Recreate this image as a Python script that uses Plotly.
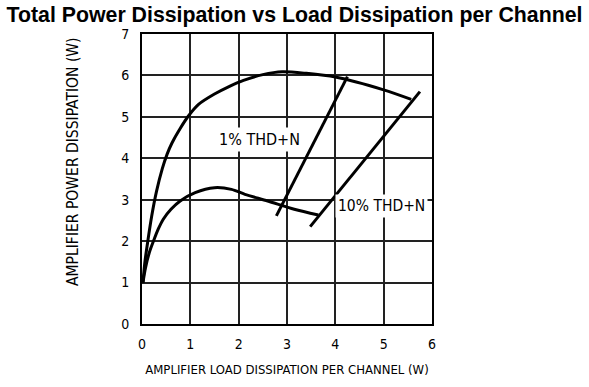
import plotly.graph_objects as go

# Dissipation curves (W): total amplifier dissipation vs load dissipation per channel
upper_x = [0.02, 0.06, 0.12, 0.20, 0.30, 0.42, 0.52, 0.62, 0.79, 0.96, 1.17, 1.50, 1.80, 2.10, 2.50, 2.90, 3.40, 4.00, 5.00, 5.57]
upper_y = [1.00, 1.50, 2.00, 2.60, 3.20, 3.75, 4.10, 4.37, 4.72, 5.02, 5.30, 5.55, 5.73, 5.88, 6.02, 6.09, 6.05, 5.96, 5.65, 5.42]

lower_x = [0.02, 0.07, 0.15, 0.24, 0.34, 0.44, 0.60, 0.79, 1.10, 1.50, 1.85, 2.13, 2.60, 3.15, 3.65]
lower_y = [1.00, 1.34, 1.72, 2.01, 2.30, 2.53, 2.77, 2.97, 3.17, 3.29, 3.25, 3.13, 2.97, 2.77, 2.63]

# Constant-distortion lines
thd1_x = [2.78, 4.25]
thd1_y = [2.61, 5.97]
thd10_x = [3.48, 5.75]
thd10_y = [2.35, 5.61]

x_ticks = [0, 1, 2, 3, 4, 5, 6]
y_ticks = [0, 1, 2, 3, 4, 5, 6, 7]

LABEL_FONT = "Liberation Sans Narrow, DejaVu Sans Condensed, sans-serif"
line_style = dict(color="black", width=3)

fig = go.Figure()
fig.add_trace(go.Scatter(x=upper_x, y=upper_y, mode="lines",
                         line=dict(shape="spline", smoothing=0.8, **line_style)))
fig.add_trace(go.Scatter(x=lower_x, y=lower_y, mode="lines",
                         line=dict(shape="spline", smoothing=0.8, **line_style)))
fig.add_trace(go.Scatter(x=thd1_x, y=thd1_y, mode="lines", line=line_style))
fig.add_trace(go.Scatter(x=thd10_x, y=thd10_y, mode="lines", line=line_style))

fig.add_annotation(x=2.43, y=4.45, text="1% THD+N", showarrow=False,
                   bgcolor="white", borderpad=2,
                   font=dict(family=LABEL_FONT, size=16, color="black"))
fig.add_annotation(x=4.95, y=2.85, text="10% THD+N", showarrow=False,
                   bgcolor="white", borderpad=2,
                   font=dict(family=LABEL_FONT, size=15.5, color="black"))

# Vertical axis title, placed as a rotated annotation
fig.add_annotation(xref="paper", yref="paper", x=-0.24, y=0.56,
                   text="AMPLIFIER POWER DISSIPATION (W)", textangle=-90,
                   showarrow=False, xanchor="center", yanchor="middle",
                   font=dict(family=LABEL_FONT, size=15.5, color="black"))

axis_common = dict(
    showgrid=True, gridcolor="#222222", gridwidth=1.5,
    showline=True, linecolor="black", linewidth=2, mirror=True,
    zeroline=False, ticks="",
    tickfont=dict(family=LABEL_FONT, size=14, color="black"),
)

fig.update_layout(
    width=589, height=387,
    margin=dict(l=142, r=157, t=34, b=61),
    paper_bgcolor="white", plot_bgcolor="white",
    showlegend=False,
    title=dict(text="<b>Total Power Dissipation vs Load Dissipation per Channel</b>",
               x=0.5, xanchor="center", y=0.962, yanchor="middle",
               font=dict(family="Liberation Sans, Arial, sans-serif", size=21.3, color="black")),
    xaxis=dict(range=[0, 6], tickvals=x_ticks, ticklabelstandoff=6,
               title=dict(text="AMPLIFIER LOAD DISSIPATION PER CHANNEL (W)", standoff=14,
                          font=dict(family=LABEL_FONT, size=13, color="black")),
               **axis_common),
    yaxis=dict(range=[0, 7], tickvals=y_ticks, ticklabelstandoff=8, **axis_common),
)

fig.write_html("out.html")
